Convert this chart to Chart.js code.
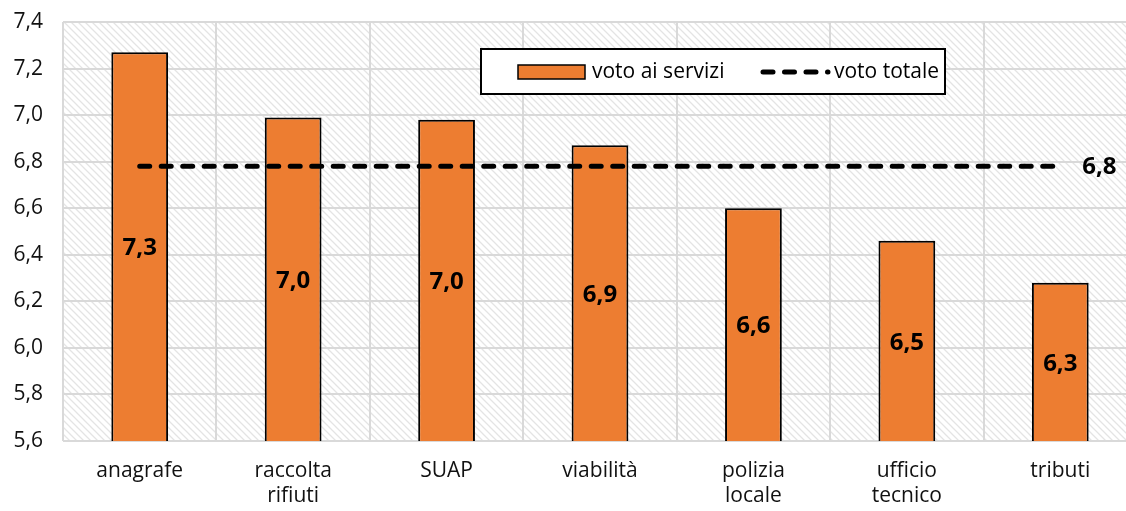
<!DOCTYPE html>
<html>
<head>
<meta charset="utf-8">
<script src="https://cdn.jsdelivr.net/npm/chart.js@4.4.1/dist/chart.umd.min.js"></script>
<style>
  html, body { margin: 0; padding: 0; background: #fff; overflow: hidden; }
</style>
</head>
<body>
<canvas id="grafico" width="1150" height="511"></canvas>
<script>
// dati
var servizi = [['anagrafe'], ['raccolta', 'rifiuti'], ['SUAP'], ['viabilità'], ['polizia', 'locale'], ['ufficio', 'tecnico'], ['tributi']];
var votoServizi = [7.27, 6.99, 6.98, 6.87, 6.60, 6.46, 6.28];
var votoTotale = [6.78, 6.78, 6.78, 6.78, 6.78, 6.78, 6.78];
var tickMin = 5.6, tickMax = 7.4, tickStep = 0.2;

var FONT = '"Open Sans", "Noto Sans", sans-serif';

function virgola(v) { return v.toFixed(1).replace('.', ','); }

// sfondo tratteggiato
function tratteggio(ctx) {
  var t = document.createElement('canvas');
  t.width = 7; t.height = 7;
  var c = t.getContext('2d');
  c.strokeStyle = '#e4e4e4';
  c.lineWidth = 1.3;
  c.beginPath();
  c.moveTo(-1, -1); c.lineTo(8, 8);
  c.moveTo(-8, -1); c.lineTo(1, 8);
  c.moveTo(6, -1); c.lineTo(15, 8);
  c.stroke();
  return ctx.createPattern(t, 'repeat');
}

var sfondo = {
  id: 'sfondo',
  beforeDraw: function(chart) {
    var a = chart.chartArea, ctx = chart.ctx;
    ctx.save();
    ctx.fillStyle = tratteggio(ctx);
    ctx.fillRect(a.left, a.top, a.right - a.left, a.bottom - a.top);
    ctx.restore();
  }
};

var etichette = {
  id: 'etichette',
  afterDatasetsDraw: function(chart) {
    var ctx = chart.ctx;
    var base = chart.chartArea.bottom;
    ctx.save();
    ctx.font = 'bold 24px ' + FONT;
    ctx.fillStyle = '#000';
    ctx.textAlign = 'center';
    ctx.textBaseline = 'middle';
    chart.getDatasetMeta(0).data.forEach(function(bar, i) {
      var p = bar.getProps(['x', 'y'], true);
      ctx.fillText(virgola(votoServizi[i]), p.x, (p.y + base) / 2 + 2);
    });
    var pts = chart.getDatasetMeta(1).data;
    var last = pts[pts.length - 1].getProps(['x', 'y'], true);
    ctx.textAlign = 'left';
    ctx.fillText(virgola(votoTotale[votoTotale.length - 1]), last.x + 22, last.y + 1);
    ctx.restore();
  },
  afterDraw: function(chart) {
    // legenda dentro l'area del grafico
    var ctx = chart.ctx;
    ctx.save();
    ctx.fillStyle = '#fff';
    ctx.fillRect(481, 49, 464, 45);
    ctx.strokeStyle = '#000';
    ctx.lineWidth = 2;
    ctx.strokeRect(481, 49, 464, 45);
    ctx.fillStyle = '#ED7D31';
    ctx.fillRect(518, 65, 67, 14);
    ctx.lineWidth = 1.5;
    ctx.strokeRect(518, 65, 67, 14);
    ctx.font = '21px ' + FONT;
    ctx.fillStyle = '#000';
    ctx.textBaseline = 'middle';
    ctx.fillText(chart.data.datasets[0].label, 592, 72);
    ctx.beginPath();
    ctx.setLineDash([10, 11.5]);
    ctx.lineCap = 'round';
    ctx.lineWidth = 5;
    ctx.moveTo(763, 72); ctx.lineTo(828, 72);
    ctx.stroke();
    ctx.setLineDash([]);
    ctx.fillText(chart.data.datasets[1].label, 834, 72);
    ctx.restore();
  }
};

new Chart(document.getElementById('grafico'), {
  data: {
    labels: servizi,
    datasets: [
      {
        type: 'bar',
        label: 'voto ai servizi',
        data: votoServizi,
        backgroundColor: '#ED7D31',
        borderColor: '#000',
        borderWidth: 2,
        barPercentage: 0.37,
        categoryPercentage: 1,
        order: 2
      },
      {
        type: 'line',
        label: 'voto totale',
        data: votoTotale,
        borderColor: '#000',
        borderWidth: 5,
        borderDash: [10, 11.5],
        borderCapStyle: 'round',
        pointRadius: 0,
        fill: false,
        order: 1
      }
    ]
  },
  options: {
    responsive: false,
    animation: false,
    layout: { padding: { top: 22, right: 13, bottom: 0, left: 0 } },
    plugins: { legend: { display: false }, tooltip: { enabled: false } },
    scales: {
      x: {
        grid: { color: '#d9d9d9', lineWidth: 2, offset: true, drawTicks: false },
        border: { display: false },
        ticks: { color: '#111', font: { family: FONT, size: 21, lineHeight: 1.2 }, padding: 17, maxRotation: 0, autoSkip: false },
        afterFit: function(s) { s.height = 70; }
      },
      y: {
        min: tickMin, max: tickMax,
        grid: { color: '#d9d9d9', lineWidth: 2, drawTicks: false },
        border: { display: false },
        ticks: {
          stepSize: tickStep,
          color: '#111',
          font: { family: FONT, size: 21 },
          padding: 20,
          callback: function(v) { return virgola(v); }
        },
        afterFit: function(s) { s.width = 63; s.paddingTop = 0; s.paddingBottom = 0; }
      }
    }
  },
  plugins: [sfondo, etichette]
});
</script>
</body>
</html>
